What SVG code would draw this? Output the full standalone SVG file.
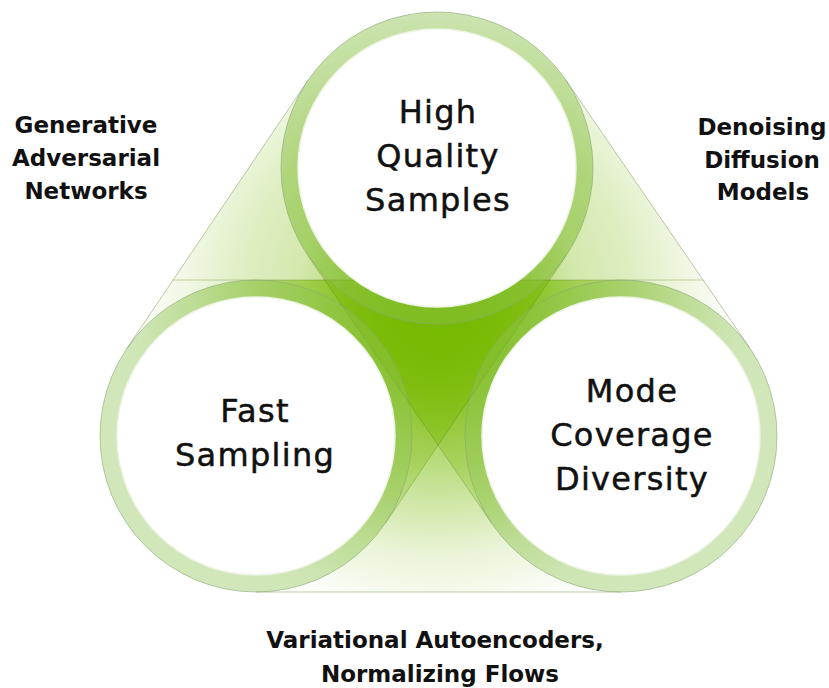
<svg xmlns="http://www.w3.org/2000/svg" width="829" height="688" viewBox="0 0 829 688">
  <style>
    .ring { fill: #8fc255; fill-opacity: 0.4; stroke: #8aa874; stroke-opacity: 0.6; stroke-width: 1; }
    .core { fill: #ffffff; stroke: #eef4e6; stroke-width: 1.5; }
    .band { fill: none; stroke-width: 312; stroke-linecap: round; }
    .edge { stroke: #56801e; stroke-opacity: 0.35; stroke-width: 1; fill: none; }
    .hulledge { stroke: #8aa874; stroke-opacity: 0.6; stroke-width: 1; fill: none; }
    .node { font-family: "DejaVu Sans", "Liberation Sans", sans-serif; font-size: 32px; fill: #111111; stroke: #111111; stroke-width: 0.5; text-anchor: middle; letter-spacing: 1.3px; }
    .lab { font-family: "DejaVu Sans", "Liberation Sans", sans-serif; font-size: 23px; font-weight: bold; fill: #111111; text-anchor: middle; }
  </style>
  <defs>
    <radialGradient id="gB" gradientUnits="userSpaceOnUse" cx="438" cy="315" r="330">
      <stop offset="0" stop-color="#76b900" stop-opacity="0.97"/>
      <stop offset="0.45" stop-color="#76b900" stop-opacity="0.5"/>
      <stop offset="0.73" stop-color="#76b900" stop-opacity="0.15"/>
      <stop offset="0.9" stop-color="#76b900" stop-opacity="0.03"/>
      <stop offset="1" stop-color="#76b900" stop-opacity="0"/>
    </radialGradient>
    <radialGradient id="gD" gradientUnits="userSpaceOnUse" cx="438" cy="300" r="300">
      <stop offset="0" stop-color="#76b900" stop-opacity="0.85"/>
      <stop offset="0.47" stop-color="#76b900" stop-opacity="0.32"/>
      <stop offset="0.65" stop-color="#76b900" stop-opacity="0.24"/>
      <stop offset="0.85" stop-color="#76b900" stop-opacity="0.1"/>
      <stop offset="1" stop-color="#76b900" stop-opacity="0.01"/>
    </radialGradient>
  </defs>
  <rect width="829" height="688" fill="#ffffff"/>

  <g id="connectors">
    <line id="band-bottom" class="band" x1="256" y1="436" x2="621" y2="436" stroke="url(#gB)"/>
    <line id="band-left" class="band" x1="256" y1="436" x2="437" y2="168" stroke="url(#gD)"/>
    <line id="band-right" class="band" x1="437" y1="168" x2="621" y2="436" stroke="url(#gD)"/>
    <line class="edge" x1="173" y1="280" x2="703" y2="280"/>
    <line class="edge" x1="566.3" y1="255.3" x2="385.3" y2="523.3"/>
    <line class="edge" x1="492.4" y1="524.3" x2="308.4" y2="256.3"/>
    <line class="hulledge" x1="256" y1="592" x2="621" y2="592"/>
    <line class="hulledge" x1="126.7" y1="348.7" x2="307.7" y2="80.7"/>
    <line class="hulledge" x1="565.6" y1="79.7" x2="749.6" y2="347.7"/>
  </g>

  <g id="node-high-quality">
    <circle class="ring" cx="437" cy="168" r="156"/>
    <circle class="core" cx="437" cy="168" r="139"/>
    <text class="node" x="438" y="123">High</text>
    <text class="node" x="438" y="167">Quality</text>
    <text class="node" x="438" y="211">Samples</text>
  </g>

  <g id="node-fast-sampling">
    <circle class="ring" cx="256" cy="436" r="156"/>
    <circle class="core" cx="256" cy="436" r="139"/>
    <text class="node" x="255" y="422">Fast</text>
    <text class="node" x="255" y="466">Sampling</text>
  </g>

  <g id="node-mode-coverage">
    <circle class="ring" cx="621" cy="436" r="156"/>
    <circle class="core" cx="621" cy="436" r="139"/>
    <text class="node" x="632" y="402">Mode</text>
    <text class="node" x="632" y="446">Coverage</text>
    <text class="node" x="632" y="490">Diversity</text>
  </g>

  <g id="label-gan">
    <text class="lab" x="86" y="133">Generative</text>
    <text class="lab" x="86" y="166">Adversarial</text>
    <text class="lab" x="86" y="199">Networks</text>
  </g>

  <g id="label-ddm">
    <text class="lab" x="762" y="135">Denoising</text>
    <text class="lab" x="762" y="168">Diffusion</text>
    <text class="lab" x="763" y="200">Models</text>
  </g>

  <g id="label-vae">
    <text class="lab" x="435" y="648">Variational Autoencoders,</text>
    <text class="lab" x="440" y="682">Normalizing Flows</text>
  </g>
</svg>
